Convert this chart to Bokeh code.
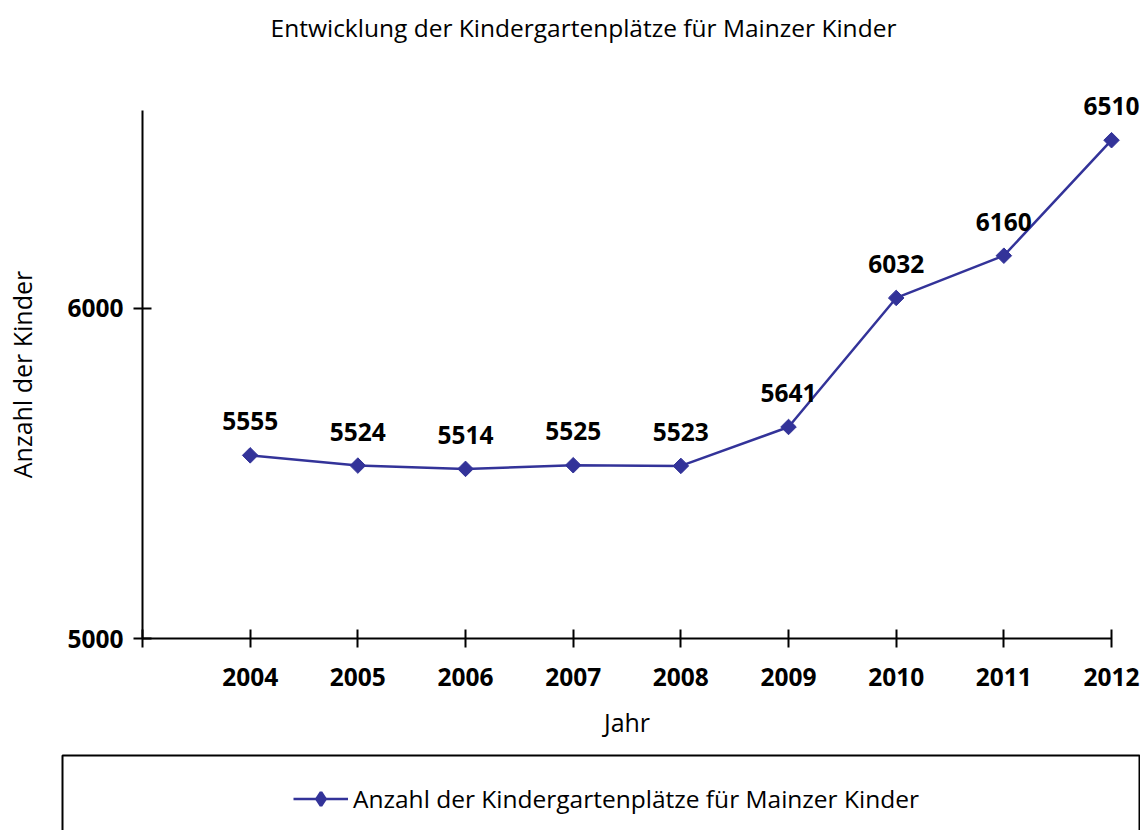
import math
from bokeh.plotting import figure
from bokeh.models import (FixedTicker, Label, LabelSet, ColumnDataSource, Legend,
                          LegendItem, BoxAnnotation, Range1d)
from bokeh.core.properties import value
from bokeh.embed import file_html
from bokeh.resources import INLINE

# ---- data ----
years = [2004, 2005, 2006, 2007, 2008, 2009, 2010, 2011, 2012]
places = [5555, 5524, 5514, 5525, 5523, 5641, 6032, 6160, 6510]
x_ticks = [2003, 2004, 2005, 2006, 2007, 2008, 2009, 2010, 2011, 2012]
y_ticks = [5000, 6000]
title_text = "Entwicklung der Kindergartenplätze für Mainzer Kinder"
series_name = "Anzahl der Kindergartenplätze für Mainzer Kinder"
x_label = "Jahr"
y_label = "Anzahl der Kinder"

FONT = "Open Sans"
COLOR = "#333399"
W, H = 1140, 830

src = ColumnDataSource(dict(x=years, y=places, lbl=[str(v) for v in places]))

# frame fills the whole canvas; axes are pinned with fixed_location
p = figure(width=W, height=H, output_backend="svg", toolbar_location=None,
           x_range=Range1d(2001.681, 2012.269), y_range=Range1d(4418.2, 6933.3),
           min_border=0)
p.title.visible = False
p.outline_line_color = None
p.xgrid.visible = False
p.ygrid.visible = False
p.background_fill_color = "white"
p.border_fill_color = "white"

line_r = p.line('x', 'y', source=src, line_color=COLOR, line_width=2.5)
mark_r = p.scatter('x', 'y', source=src, marker="square", angle=math.pi / 4,
                   size=11, fill_color=COLOR, line_color=COLOR)
# legend-only marker (legend glyphs ignore angle); its single point is NaN so
# nothing is drawn in the plot area
legend_mark = p.scatter(x=[float("nan")], y=[float("nan")], marker="diamond",
                        fill_color=COLOR, line_color=COLOR, line_width=3)

labels = LabelSet(x='x', y='y', text='lbl', source=src, y_offset=25,
                  text_align="center", text_baseline="bottom",
                  text_font=value(FONT), text_font_size="24.5px",
                  text_font_style="bold", text_color="black")
p.add_layout(labels)

for ax in (p.xaxis[0], p.yaxis[0]):
    ax.axis_line_color = "black"
    ax.axis_line_width = 2
    ax.major_tick_line_color = "black"
    ax.major_tick_line_width = 2
    ax.major_tick_in = 9
    ax.major_tick_out = 9
    ax.minor_tick_line_color = None
    ax.major_label_text_font = FONT
    ax.major_label_text_font_size = "24.5px"
    ax.major_label_text_font_style = "bold"
    ax.major_label_text_color = "black"
    ax.axis_label_text_font = FONT
    ax.axis_label_text_font_size = "25px"
    ax.axis_label_text_font_style = "normal"
    ax.axis_label_text_color = "black"

p.xaxis.ticker = FixedTicker(ticks=x_ticks)
p.xaxis.major_label_overrides = {2003: ""}
p.xaxis.major_label_standoff = 20
p.xaxis.axis_label = x_label
p.xaxis.axis_label_standoff = 16
p.xaxis.fixed_location = 5000
p.xaxis.bounds = (2003, 2012)

p.yaxis.ticker = FixedTicker(ticks=y_ticks)
p.yaxis.major_label_standoff = 10
p.yaxis.axis_label = y_label
p.yaxis.axis_label_standoff = 25
p.yaxis.fixed_location = 2003
p.yaxis.bounds = (5000, 6600)

title = Label(x=583, y=H - 27, x_units="screen", y_units="screen", text=title_text,
              text_align="center", text_baseline="middle", text_font=FONT,
              text_font_size="24.5px", text_color="black")
p.add_layout(title)

box = BoxAnnotation(left=62, right=W - 1, top=H - 755, bottom=-10,
                    left_units="screen", right_units="screen",
                    top_units="screen", bottom_units="screen",
                    fill_alpha=0, line_color="black", line_width=2, line_alpha=1)
p.add_layout(box)

legend = Legend(items=[LegendItem(label=series_name, renderers=[line_r, legend_mark])],
                location=(293, H - 815), padding=0, margin=0, glyph_width=55,
                glyph_height=33, label_standoff=5, border_line_alpha=0,
                background_fill_alpha=0, label_text_font=FONT,
                label_text_font_size="24.5px", label_text_color="black")
p.add_layout(legend)

open("out.html", "w").write(file_html(p, INLINE))
